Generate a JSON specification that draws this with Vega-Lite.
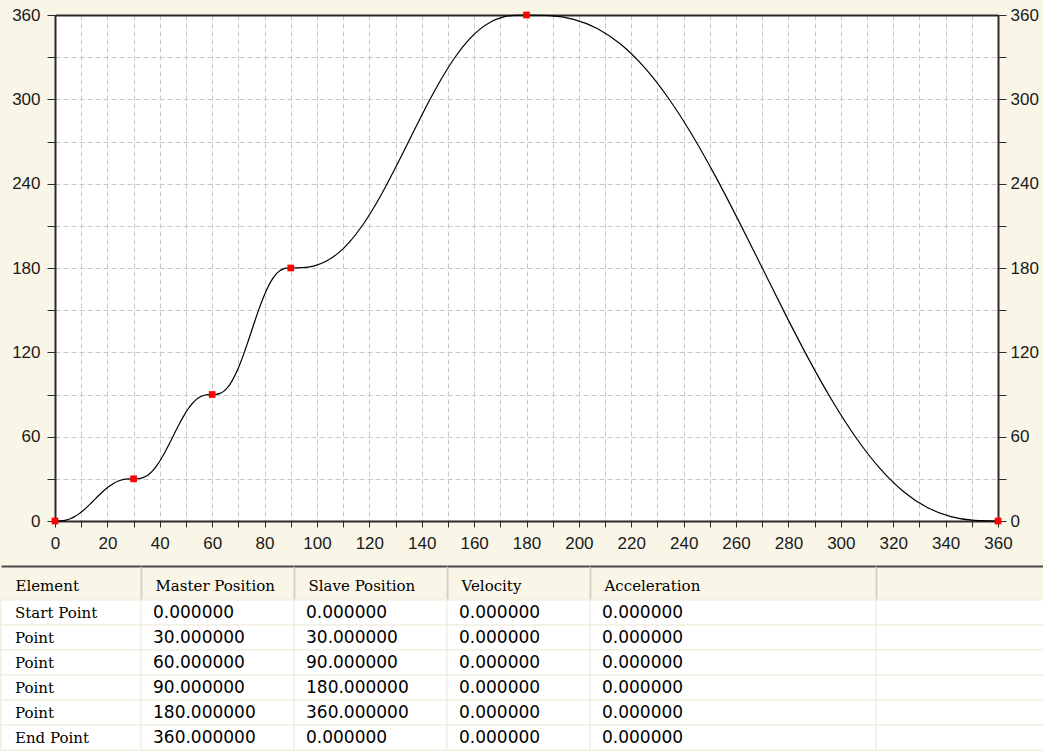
{
  "$schema": "https://vega.github.io/schema/vega-lite/v6.json",
  "padding": 0,
  "background": "#F9F6E8",
  "config": {
    "view": {"stroke": null},
    "axis": {"labelFont": "Liberation Sans", "labelFontSize": 17, "labelColor": "#1a1a1a", "title": null}
  },
  "datasets": {
    "pts": [
      {"Element": "Start Point", "Master Position": 0, "Slave Position": 0, "Velocity": 0, "Acceleration": 0},
      {"Element": "Point", "Master Position": 30, "Slave Position": 30, "Velocity": 0, "Acceleration": 0},
      {"Element": "Point", "Master Position": 60, "Slave Position": 90, "Velocity": 0, "Acceleration": 0},
      {"Element": "Point", "Master Position": 90, "Slave Position": 180, "Velocity": 0, "Acceleration": 0},
      {"Element": "Point", "Master Position": 180, "Slave Position": 360, "Velocity": 0, "Acceleration": 0},
      {"Element": "End Point", "Master Position": 360, "Slave Position": 0, "Velocity": 0, "Acceleration": 0}
    ],
    "curve": [
      {"master": 0, "slave": 0}, {"master": 1.5, "slave": 0.03}, {"master": 3, "slave": 0.26}, {"master": 4.5, "slave": 0.8}, {"master": 6, "slave": 1.74}, {"master": 7.5, "slave": 3.11}, {"master": 9, "slave": 4.89}, {"master": 10.5, "slave": 7.06}, {"master": 12, "slave": 9.52}, {"master": 13.5, "slave": 12.21}, {"master": 15, "slave": 15}, {"master": 16.5, "slave": 17.79}, {"master": 18, "slave": 20.48}, {"master": 19.5, "slave": 22.94}, {"master": 21, "slave": 25.11}, {"master": 22.5, "slave": 26.89}, {"master": 24, "slave": 28.26}, {"master": 25.5, "slave": 29.2}, {"master": 27, "slave": 29.74}, {"master": 28.5, "slave": 29.97}, {"master": 30, "slave": 30},
      {"master": 31.5, "slave": 30.07}, {"master": 33, "slave": 30.51}, {"master": 34.5, "slave": 31.6}, {"master": 36, "slave": 33.48}, {"master": 37.5, "slave": 36.21}, {"master": 39, "slave": 39.78}, {"master": 40.5, "slave": 44.11}, {"master": 42, "slave": 49.05}, {"master": 43.5, "slave": 54.41}, {"master": 45, "slave": 60}, {"master": 46.5, "slave": 65.59}, {"master": 48, "slave": 70.95}, {"master": 49.5, "slave": 75.89}, {"master": 51, "slave": 80.22}, {"master": 52.5, "slave": 83.79}, {"master": 54, "slave": 86.52}, {"master": 55.5, "slave": 88.4}, {"master": 57, "slave": 89.49}, {"master": 58.5, "slave": 89.93}, {"master": 60, "slave": 90},
      {"master": 61.5, "slave": 90.1}, {"master": 63, "slave": 90.77}, {"master": 64.5, "slave": 92.39}, {"master": 66, "slave": 95.21}, {"master": 67.5, "slave": 99.32}, {"master": 69, "slave": 104.68}, {"master": 70.5, "slave": 111.17}, {"master": 72, "slave": 118.57}, {"master": 73.5, "slave": 126.62}, {"master": 75, "slave": 135}, {"master": 76.5, "slave": 143.38}, {"master": 78, "slave": 151.43}, {"master": 79.5, "slave": 158.83}, {"master": 81, "slave": 165.32}, {"master": 82.5, "slave": 170.68}, {"master": 84, "slave": 174.79}, {"master": 85.5, "slave": 177.61}, {"master": 87, "slave": 179.23}, {"master": 88.5, "slave": 179.9}, {"master": 90, "slave": 180},
      {"master": 94.5, "slave": 180.21}, {"master": 99, "slave": 181.54}, {"master": 103.5, "slave": 184.79}, {"master": 108, "slave": 190.43}, {"master": 112.5, "slave": 198.63}, {"master": 117, "slave": 209.35}, {"master": 121.5, "slave": 222.33}, {"master": 126, "slave": 237.14}, {"master": 130.5, "slave": 253.24}, {"master": 135, "slave": 270}, {"master": 139.5, "slave": 286.76}, {"master": 144, "slave": 302.86}, {"master": 148.5, "slave": 317.67}, {"master": 153, "slave": 330.65}, {"master": 157.5, "slave": 341.37}, {"master": 162, "slave": 349.57}, {"master": 166.5, "slave": 355.21}, {"master": 171, "slave": 358.46}, {"master": 175.5, "slave": 359.79}, {"master": 180, "slave": 360},
      {"master": 189, "slave": 359.58}, {"master": 198, "slave": 356.92}, {"master": 207, "slave": 350.42}, {"master": 216, "slave": 339.15}, {"master": 225, "slave": 322.73}, {"master": 234, "slave": 301.29}, {"master": 243, "slave": 275.34}, {"master": 252, "slave": 245.72}, {"master": 261, "slave": 213.53}, {"master": 270, "slave": 180}, {"master": 279, "slave": 146.47}, {"master": 288, "slave": 114.28}, {"master": 297, "slave": 84.66}, {"master": 306, "slave": 58.71}, {"master": 315, "slave": 37.27}, {"master": 324, "slave": 20.85}, {"master": 333, "slave": 9.58}, {"master": 342, "slave": 3.08}, {"master": 351, "slave": 0.42}, {"master": 360, "slave": 0}
    ]
  },
  "spacing": 10,
  "vconcat": [
    {
      "spacing": 0,
      "hconcat": [
        {"width": 1, "height": 506, "data": {"values": []}, "mark": "point"},
        {
          "width": 943,
          "height": 506,
          "view": {"fill": "white", "stroke": null},
          "layer": [
            {
              "data": {"name": "curve"},
              "mark": {"type": "line", "color": "#000000", "strokeWidth": 1.2, "interpolate": "monotone"},
              "encoding": {
                "x": {
                  "field": "master", "type": "quantitative",
                  "scale": {"domain": [0, 360], "nice": false},
                  "axis": {
                    "orient": "bottom",
                    "values": [0, 10, 20, 30, 40, 50, 60, 70, 80, 90, 100, 110, 120, 130, 140, 150, 160, 170, 180, 190, 200, 210, 220, 230, 240, 250, 260, 270, 280, 290, 300, 310, 320, 330, 340, 350, 360],
                    "labelExpr": "datum.value % 20 === 0 ? datum.label : ''",
                    "grid": true, "gridColor": "#C8C8C8", "gridDash": [5, 3], "gridWidth": 1,
                    "domainColor": "#2b2b2b", "domainWidth": 2,
                    "tickColor": "#2b2b2b", "tickSize": 6, "tickWidth": 1,
                    "labelPadding": 8, "labelFlush": false, "labelOverlap": false,
                    "minExtent": 34, "maxExtent": 34
                  }
                },
                "y": {
                  "field": "slave", "type": "quantitative",
                  "scale": {"domain": [0, 360], "nice": false},
                  "axis": {
                    "orient": "left",
                    "values": [0, 30, 60, 90, 120, 150, 180, 210, 240, 270, 300, 330, 360],
                    "labelExpr": "datum.value % 60 === 0 ? datum.label : ''",
                    "grid": true, "gridColor": "#C8C8C8", "gridDash": [5, 3], "gridWidth": 1,
                    "domainColor": "#2b2b2b", "domainWidth": 2,
                    "tickColor": "#2b2b2b", "tickSize": 8, "tickWidth": 1,
                    "labelPadding": 7, "labelFlush": false, "labelOverlap": false,
                    "minExtent": 53, "maxExtent": 53
                  }
                }
              }
            },
            {
              "data": {"name": "pts"},
              "mark": {"type": "square", "color": "#FF0000", "size": 45, "opacity": 1},
              "encoding": {
                "x": {
                  "field": "Master Position", "type": "quantitative",
                  "axis": {
                    "orient": "top", "ticks": false, "labels": false, "grid": false,
                    "domainColor": "#2b2b2b", "domainWidth": 2,
                    "minExtent": 15, "maxExtent": 15
                  }
                },
                "y": {
                  "field": "Slave Position", "type": "quantitative",
                  "axis": {
                    "orient": "right",
                    "values": [0, 30, 60, 90, 120, 150, 180, 210, 240, 270, 300, 330, 360],
                    "labelExpr": "datum.value % 60 === 0 ? datum.label : ''",
                    "grid": false,
                    "domainColor": "#2b2b2b", "domainWidth": 2,
                    "tickColor": "#2b2b2b", "tickSize": 8, "tickWidth": 1,
                    "labelPadding": 4, "labelFlush": false, "labelOverlap": false
                  }
                }
              }
            }
          ],
          "resolve": {"axis": {"x": "independent", "y": "independent"}}
        }
      ]
    },
    {
      "spacing": 0,
      "bounds": "flush",
      "hconcat": [
        {
          "width": 140, "height": 150, "data": {"name": "pts"},
          "view": {"fill": "white", "stroke": null},
          "layer": [
            {"mark": {"type": "rect", "fill": "white", "stroke": "#EEEADA", "strokeWidth": 1},
             "encoding": {"y": {"field": "Master Position", "type": "ordinal", "axis": null}}},
            {"mark": {"type": "text", "align": "left", "dx": 14, "font": "DejaVu Serif", "fontSize": 15, "color": "#000000"},
             "encoding": {
               "x": {"datum": "Element", "scale": {"type": "point", "padding": 0, "align": 0},
                     "axis": {"orient": "top", "offset": 34, "title": null, "domain": true, "domainColor": "#4a4a4a", "domainWidth": 2, "ticks": true, "tickSize": -33, "tickColor": "transparent", "tickWidth": 2, "labelAngle": 0, "labelAlign": "left", "labelBaseline": "middle", "labelOffset": 14, "labelPadding": 14, "labelFont": "DejaVu Serif", "labelFontSize": 15, "labelColor": "#000000", "minExtent": 0, "maxExtent": 0, "grid": false}},
               "y": {"field": "Master Position", "type": "ordinal", "scale": {"type": "band", "paddingInner": 0, "paddingOuter": 0}, "axis": null},
               "text": {"field": "Element", "type": "nominal"}
             }}
          ]
        },
        {
          "width": 153, "height": 150, "data": {"name": "pts"},
          "view": {"fill": "white", "stroke": null},
          "layer": [
            {"mark": {"type": "rect", "fill": "white", "stroke": "#EEEADA", "strokeWidth": 1},
             "encoding": {"y": {"field": "Master Position", "type": "ordinal", "axis": null}}},
            {"mark": {"type": "text", "align": "left", "dx": 12, "font": "DejaVu Sans", "fontSize": 17, "color": "#000000"},
             "encoding": {
               "x": {"datum": "Master Position", "scale": {"type": "point", "padding": 0, "align": 0},
                     "axis": {"orient": "top", "offset": 34, "title": null, "domain": true, "domainColor": "#4a4a4a", "domainWidth": 2, "ticks": true, "tickSize": -33, "tickColor": "#D6D2C2", "tickWidth": 2, "labelAngle": 0, "labelAlign": "left", "labelBaseline": "middle", "labelOffset": 14, "labelPadding": 14, "labelFont": "DejaVu Serif", "labelFontSize": 15, "labelColor": "#000000", "minExtent": 0, "maxExtent": 0, "grid": false}},
               "y": {"field": "Master Position", "type": "ordinal", "scale": {"type": "band", "paddingInner": 0, "paddingOuter": 0}, "axis": null},
               "text": {"field": "Master Position", "type": "quantitative", "format": ".6f"}
             }}
          ]
        },
        {
          "width": 153, "height": 150, "data": {"name": "pts"},
          "view": {"fill": "white", "stroke": null},
          "layer": [
            {"mark": {"type": "rect", "fill": "white", "stroke": "#EEEADA", "strokeWidth": 1},
             "encoding": {"y": {"field": "Master Position", "type": "ordinal", "axis": null}}},
            {"mark": {"type": "text", "align": "left", "dx": 12, "font": "DejaVu Sans", "fontSize": 17, "color": "#000000"},
             "encoding": {
               "x": {"datum": "Slave Position", "scale": {"type": "point", "padding": 0, "align": 0},
                     "axis": {"orient": "top", "offset": 34, "title": null, "domain": true, "domainColor": "#4a4a4a", "domainWidth": 2, "ticks": true, "tickSize": -33, "tickColor": "#D6D2C2", "tickWidth": 2, "labelAngle": 0, "labelAlign": "left", "labelBaseline": "middle", "labelOffset": 14, "labelPadding": 14, "labelFont": "DejaVu Serif", "labelFontSize": 15, "labelColor": "#000000", "minExtent": 0, "maxExtent": 0, "grid": false}},
               "y": {"field": "Master Position", "type": "ordinal", "scale": {"type": "band", "paddingInner": 0, "paddingOuter": 0}, "axis": null},
               "text": {"field": "Slave Position", "type": "quantitative", "format": ".6f"}
             }}
          ]
        },
        {
          "width": 143, "height": 150, "data": {"name": "pts"},
          "view": {"fill": "white", "stroke": null},
          "layer": [
            {"mark": {"type": "rect", "fill": "white", "stroke": "#EEEADA", "strokeWidth": 1},
             "encoding": {"y": {"field": "Master Position", "type": "ordinal", "axis": null}}},
            {"mark": {"type": "text", "align": "left", "dx": 12, "font": "DejaVu Sans", "fontSize": 17, "color": "#000000"},
             "encoding": {
               "x": {"datum": "Velocity", "scale": {"type": "point", "padding": 0, "align": 0},
                     "axis": {"orient": "top", "offset": 34, "title": null, "domain": true, "domainColor": "#4a4a4a", "domainWidth": 2, "ticks": true, "tickSize": -33, "tickColor": "#D6D2C2", "tickWidth": 2, "labelAngle": 0, "labelAlign": "left", "labelBaseline": "middle", "labelOffset": 14, "labelPadding": 14, "labelFont": "DejaVu Serif", "labelFontSize": 15, "labelColor": "#000000", "minExtent": 0, "maxExtent": 0, "grid": false}},
               "y": {"field": "Master Position", "type": "ordinal", "scale": {"type": "band", "paddingInner": 0, "paddingOuter": 0}, "axis": null},
               "text": {"field": "Velocity", "type": "quantitative", "format": ".6f"}
             }}
          ]
        },
        {
          "width": 286, "height": 150, "data": {"name": "pts"},
          "view": {"fill": "white", "stroke": null},
          "layer": [
            {"mark": {"type": "rect", "fill": "white", "stroke": "#EEEADA", "strokeWidth": 1},
             "encoding": {"y": {"field": "Master Position", "type": "ordinal", "axis": null}}},
            {"mark": {"type": "text", "align": "left", "dx": 12, "font": "DejaVu Sans", "fontSize": 17, "color": "#000000"},
             "encoding": {
               "x": {"datum": "Acceleration", "scale": {"type": "point", "padding": 0, "align": 0},
                     "axis": {"orient": "top", "offset": 34, "title": null, "domain": true, "domainColor": "#4a4a4a", "domainWidth": 2, "ticks": true, "tickSize": -33, "tickColor": "#D6D2C2", "tickWidth": 2, "labelAngle": 0, "labelAlign": "left", "labelBaseline": "middle", "labelOffset": 14, "labelPadding": 14, "labelFont": "DejaVu Serif", "labelFontSize": 15, "labelColor": "#000000", "minExtent": 0, "maxExtent": 0, "grid": false}},
               "y": {"field": "Master Position", "type": "ordinal", "scale": {"type": "band", "paddingInner": 0, "paddingOuter": 0}, "axis": null},
               "text": {"field": "Acceleration", "type": "quantitative", "format": ".6f"}
             }}
          ]
        },
        {
          "width": 168, "height": 150, "data": {"name": "pts"},
          "view": {"fill": "white", "stroke": null},
          "layer": [
            {"mark": {"type": "rect", "fill": "white", "stroke": "#EEEADA", "strokeWidth": 1},
             "encoding": {"y": {"field": "Master Position", "type": "ordinal", "axis": null}}},
            {"mark": {"type": "text", "align": "left", "dx": 12, "font": "DejaVu Sans", "fontSize": 17, "color": "#000000"},
             "encoding": {
               "x": {"datum": " ", "scale": {"type": "point", "padding": 0, "align": 0},
                     "axis": {"orient": "top", "offset": 34, "title": null, "domain": true, "domainColor": "#4a4a4a", "domainWidth": 2, "ticks": true, "tickSize": -33, "tickColor": "#D6D2C2", "tickWidth": 2, "labelAngle": 0, "labelAlign": "left", "labelBaseline": "middle", "labelOffset": 14, "labelPadding": 14, "labelFont": "DejaVu Serif", "labelFontSize": 15, "labelColor": "#000000", "minExtent": 0, "maxExtent": 0, "grid": false}},
               "y": {"field": "Master Position", "type": "ordinal", "scale": {"type": "band", "paddingInner": 0, "paddingOuter": 0}, "axis": null},
               "text": {"value": ""}
             }}
          ]
        }
      ]
    }
  ]
}
